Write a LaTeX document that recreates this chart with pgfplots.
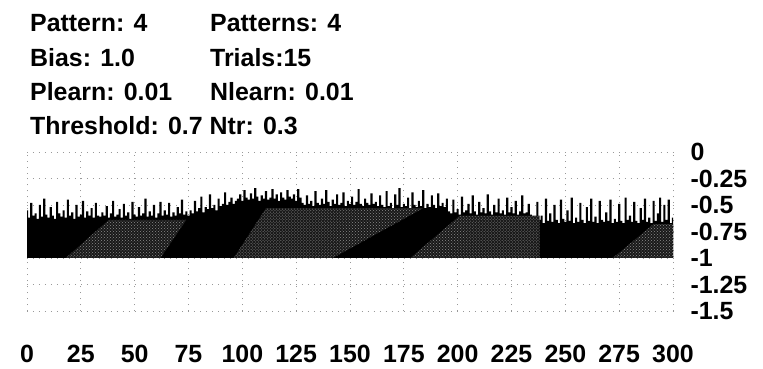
\documentclass[border=0pt]{standalone}
\usepackage{fontspec}
\setmainfont{Liberation Sans}
\usepackage{pgfplots}
\usepackage{pgfplotstable}
\pgfplotsset{compat=1.18}
\usetikzlibrary{patterns}

% first and last rows are the baseline (-1) that closes the filled area
\pgfplotstableread[row sep=\\]{
y\\
-1\\
-0.55\\ -0.62\\ -0.48\\ -0.60\\ -0.58\\ -0.63\\ -0.50\\ -0.61\\ -0.44\\ -0.59\\
-0.62\\ -0.52\\ -0.60\\ -0.63\\ -0.47\\ -0.58\\ -0.61\\ -0.55\\ -0.62\\ -0.45\\
-0.60\\ -0.57\\ -0.63\\ -0.50\\ -0.61\\ -0.59\\ -0.46\\ -0.62\\ -0.56\\ -0.60\\
-0.53\\ -0.62\\ -0.48\\ -0.60\\ -0.61\\ -0.57\\
-0.60\\ -0.51\\ -0.62\\ -0.58\\ -0.46\\ -0.61\\ -0.59\\ -0.54\\ -0.62\\ -0.49\\
-0.60\\ -0.57\\ -0.63\\ -0.47\\ -0.59\\ -0.61\\ -0.52\\ -0.60\\ -0.58\\ -0.44\\
-0.61\\ -0.56\\ -0.60\\ -0.50\\ -0.62\\ -0.58\\ -0.47\\ -0.60\\ -0.55\\ -0.59\\
-0.48\\ -0.61\\ -0.57\\ -0.60\\ -0.52\\ -0.58\\ -0.45\\ -0.59\\ -0.56\\ -0.60\\
-0.55\\ -0.58\\ -0.46\\ -0.56\\ -0.53\\ -0.42\\ -0.57\\ -0.52\\ -0.54\\ -0.40\\
-0.53\\ -0.50\\ -0.55\\ -0.44\\ -0.51\\ -0.49\\ -0.38\\ -0.50\\ -0.47\\ -0.43\\
-0.49\\ -0.46\\
-0.44\\ -0.40\\ -0.46\\ -0.36\\ -0.43\\ -0.45\\ -0.39\\ -0.44\\ -0.34\\ -0.42\\
-0.46\\ -0.41\\ -0.44\\ -0.37\\ -0.45\\ -0.43\\ -0.35\\ -0.44\\ -0.40\\ -0.46\\
-0.38\\ -0.43\\ -0.45\\ -0.36\\ -0.42\\ -0.44\\ -0.40\\ -0.46\\ -0.35\\ -0.43\\
-0.48\\ -0.50\\ -0.41\\ -0.49\\ -0.46\\ -0.51\\ -0.37\\ -0.48\\ -0.50\\ -0.44\\
-0.49\\ -0.36\\ -0.47\\ -0.51\\ -0.45\\ -0.49\\ -0.40\\ -0.50\\ -0.48\\ -0.38\\
-0.51\\ -0.46\\ -0.49\\ -0.42\\ -0.50\\ -0.47\\ -0.35\\ -0.49\\ -0.51\\ -0.44\\
-0.48\\ -0.50\\ -0.39\\ -0.49\\ -0.47\\ -0.51\\ -0.41\\
-0.50\\ -0.52\\ -0.37\\ -0.51\\ -0.48\\ -0.53\\ -0.40\\ -0.50\\ -0.34\\ -0.52\\
-0.49\\ -0.51\\ -0.43\\ -0.53\\ -0.38\\ -0.50\\ -0.52\\ -0.46\\ -0.51\\ -0.36\\
-0.53\\ -0.49\\ -0.52\\ -0.41\\ -0.50\\ -0.53\\ -0.39\\ -0.51\\ -0.48\\ -0.52\\
-0.44\\
-0.56\\ -0.58\\ -0.45\\ -0.57\\ -0.54\\ -0.59\\ -0.42\\ -0.57\\ -0.55\\ -0.49\\
-0.58\\ -0.41\\ -0.56\\ -0.59\\ -0.47\\ -0.57\\ -0.53\\ -0.58\\ -0.40\\ -0.56\\
-0.59\\ -0.50\\ -0.57\\ -0.44\\ -0.58\\ -0.55\\ -0.59\\ -0.43\\ -0.57\\ -0.52\\
-0.58\\ -0.46\\ -0.59\\ -0.56\\ -0.41\\ -0.58\\ -0.57\\ -0.49\\ -0.59\\
-0.62\\ -0.66\\ -0.47\\ -0.64\\ -0.60\\ -0.67\\ -0.44\\ -0.65\\ -0.58\\ -0.66\\
-0.50\\ -0.64\\ -0.67\\ -0.45\\ -0.63\\ -0.66\\ -0.55\\ -0.65\\ -0.43\\ -0.67\\
-0.62\\ -0.66\\ -0.48\\ -0.64\\ -0.67\\ -0.52\\ -0.65\\ -0.44\\ -0.66\\ -0.61\\
-0.67\\ -0.46\\ -0.64\\ -0.66\\ -0.57\\ -0.65\\ -0.45\\ -0.67\\ -0.63\\ -0.66\\
-0.49\\ -0.65\\ -0.67\\ -0.43\\ -0.64\\ -0.60\\ -0.66\\ -0.47\\ -0.65\\ -0.67\\
-0.53\\ -0.64\\ -0.44\\ -0.66\\ -0.62\\ -0.67\\ -0.46\\ -0.65\\ -0.58\\ -0.43\\
-0.66\\ -0.50\\ -0.64\\ -0.45\\ -0.67\\ -0.62\\
-1\\
}\bars

\begin{document}
\begin{tikzpicture}
\path[use as bounding box] (0,0) rectangle (763bp,369bp);
\begin{scope}[every node/.style={anchor=base west, inner sep=0pt, font=\fontsize{25}{25}\selectfont\bfseries}]
\node at (30bp,337bp) {Pattern: 4};
\node at (210bp,337bp) {Patterns: 4};
\node at (30bp,302bp) {Bias: 1.0};
\node at (210bp,302bp) {Trials:15};
\node at (30bp,268bp) {Plearn: 0.01};
\node at (210bp,268bp) {Nlearn: 0.01};
\node at (30bp,234bp) {Threshold: 0.7 Ntr: 0.3};
\end{scope}
\begin{axis}[
  at={(27bp,58bp)}, anchor=south west,
  scale only axis, width=646bp, height=159bp,
  xmin=0, xmax=300, ymin=-1.5, ymax=0,
  xtick={0,25,...,300},
  ytick={-1.5,-1.25,-1,-0.75,-0.5,-0.25,0},
  yticklabels={-1.5,-1.25,-1,-0.75,-0.5,-0.25,0},
  xticklabels={0,25,50,75,100,125,150,175,200,225,250,275,300},
  yticklabel pos=right,
  axis line style={draw=none},
  major tick length=0pt,
  grid=major,
  grid style={dash pattern=on 1pt off 5pt, black!40, line width=0.8pt},
  tick label style={font=\fontsize{25}{25}\selectfont\bfseries},
  yticklabel style={anchor=west, xshift=14bp},
  xticklabel style={anchor=base, yshift=-51bp},
]
\addplot[fill=black, draw=none, const plot mark mid] table[x expr=\coordindex-1, y=y] {\bars};
\addplot[draw=none, fill=black!90, postaction={pattern=crosshatch dots, pattern color=black!45}]
  coordinates {(18,-1) (62,-1) (74,-0.64) (38,-0.64)};
\addplot[draw=none, fill=black!90, postaction={pattern=crosshatch dots, pattern color=black!45}]
  coordinates {(96,-1) (142,-1) (184,-0.53) (111,-0.53)};
\addplot[draw=none, fill=black!90, postaction={pattern=crosshatch dots, pattern color=black!45}]
  coordinates {(178,-1) (238,-1) (238,-0.6) (201,-0.6)};
\addplot[draw=none, fill=black!90, postaction={pattern=crosshatch dots, pattern color=black!45}]
  coordinates {(272,-1) (300,-1) (300,-0.68) (291,-0.68)};
\end{axis}
\end{tikzpicture}
\end{document}
